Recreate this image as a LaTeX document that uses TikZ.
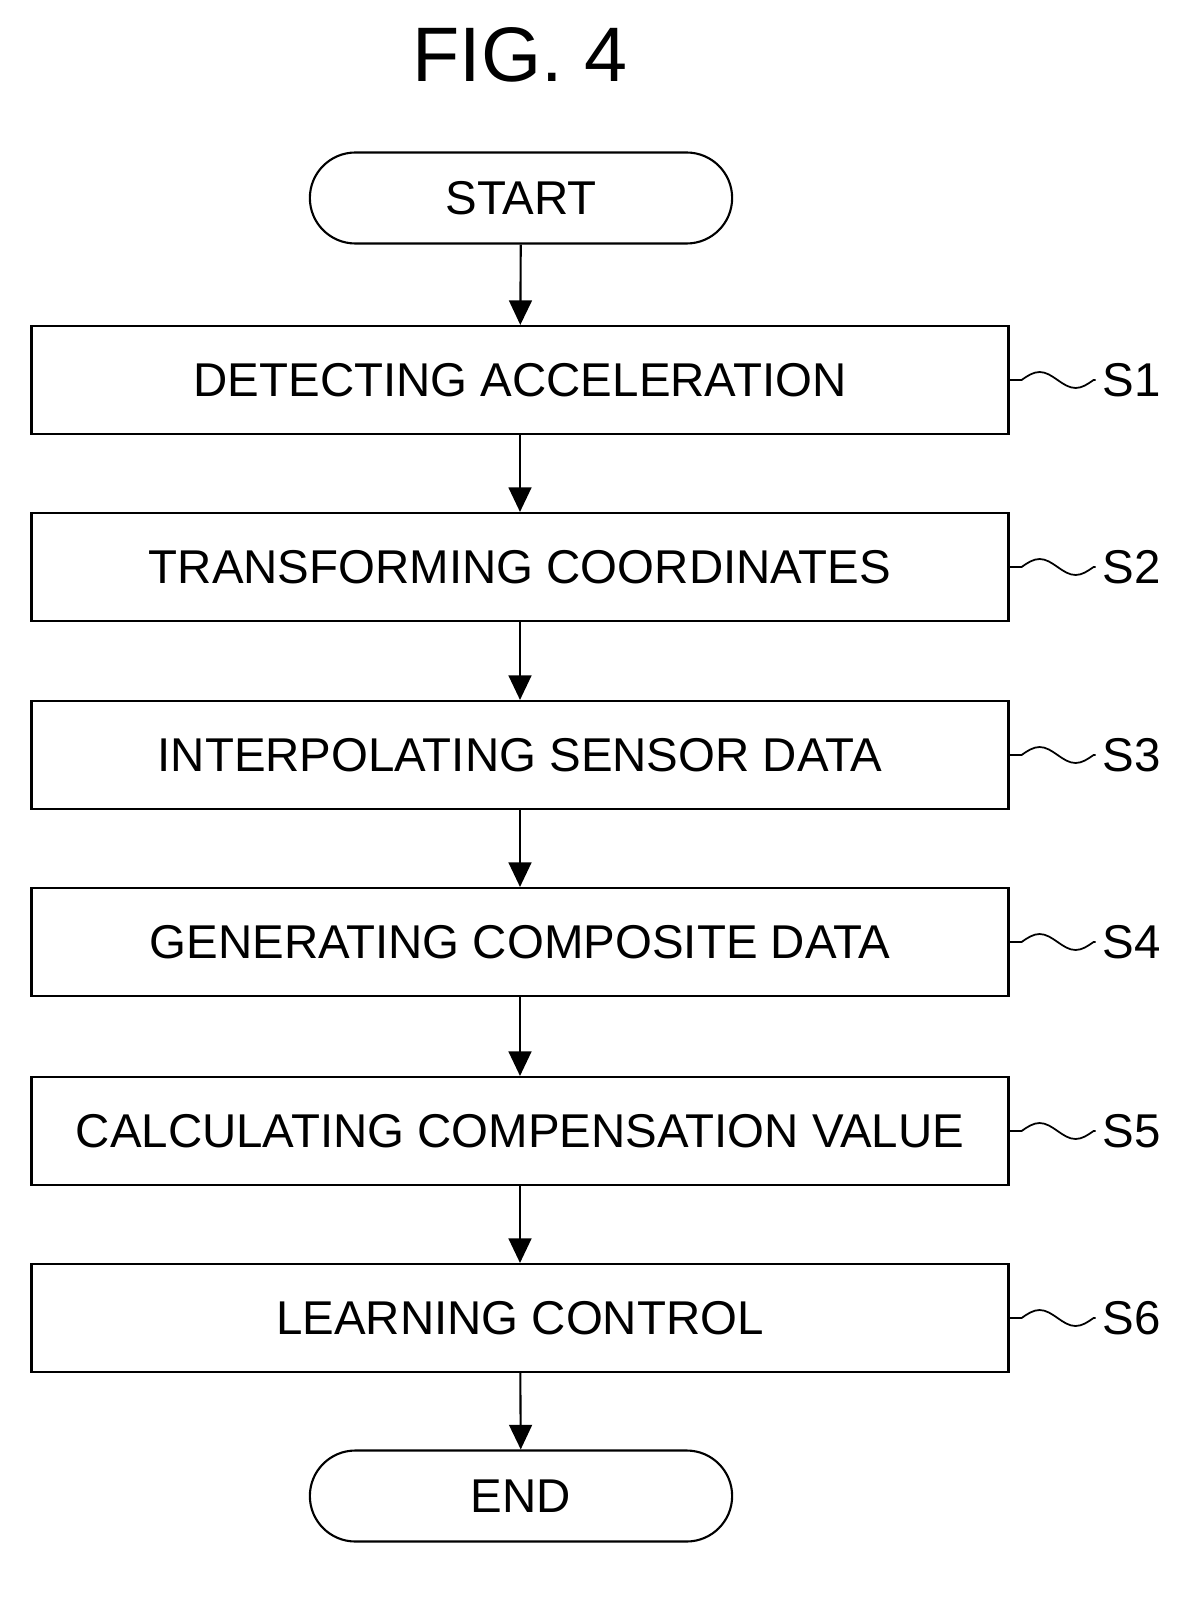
\documentclass[tikz,border=0pt]{standalone}
\usepackage{fontspec}
\setmainfont{Liberation Sans}
\usetikzlibrary{arrows.meta,shapes.misc}
\begin{document}
\begin{tikzpicture}[x=0.02cm,y=-0.02cm,line width=1.2pt,
  every node/.style={font=\fontsize{27}{30}\selectfont},
  procbox/.style={draw,minimum width=977*0.02cm,minimum height=108*0.02cm,inner sep=0pt},
  term/.style={draw,rounded rectangle,minimum width=434*0.02cm,minimum height=91*0.02cm},
  flow/.style={-{Triangle[length=14pt,width=13pt]}}]
 		\useasboundingbox (0,0) rectangle (1194,1608);
 		\node at (520,55) {\fontsize{44}{48}\selectfont FIG. 4};
 		\node[term] (start) at (521,198) {START};
 		\node[procbox] (s1) at (520,380) {DETECTING ACCELERATION};
 		\node[procbox] (s2) at (520,567) {TRANSFORMING COORDINATES};
 		\node[procbox] (s3) at (520,755) {INTERPOLATING SENSOR DATA};
 		\node[procbox] (s4) at (520,942) {GENERATING COMPOSITE DATA};
 		\node[procbox] (s5) at (520,1131) {CALCULATING COMPENSATION VALUE};
 		\node[procbox] (s6) at (520,1318) {LEARNING CONTROL};
 		\node[term] (end) at (521,1496) {END};

 		\draw[flow] (start) -- (s1);
 		\foreach \a/\b in {s1/s2,s2/s3,s3/s4,s4/s5,s5/s6,s6/end}
 		  \draw[flow] (\a) -- (\b);

 		% step labels
 		\foreach \n in {1,...,6}{
 		  \node[anchor=west] (l\n) at ([xshift=86*0.02cm]s\n.east) {S\n};
 		  \draw[line width=1pt] (s\n.east) -- ++(12,0) sin ++(18,-8) cos ++(18,8) sin ++(18,8) cos ++(18,-8) -- (l\n.west);
 		}
 	\end{tikzpicture}
\end{document}
